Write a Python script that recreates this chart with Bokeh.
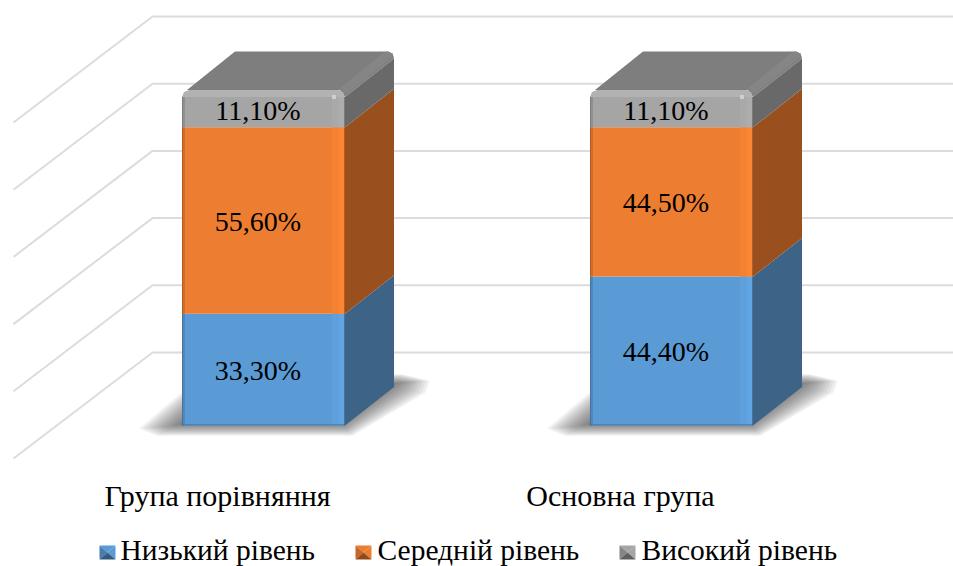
from bokeh.plotting import figure
from bokeh.embed import file_html
from bokeh.resources import INLINE
from bokeh.core.properties import value

# --- data ---
categories = ["Група порівняння", "Основна група"]
low_level = [33.3, 44.4]
mid_level = [55.6, 44.5]
high_level = [11.1, 11.1]
low_labels = ["33,30%", "44,40%"]
mid_labels = ["55,60%", "44,50%"]
high_labels = ["11,10%", "11,10%"]
series_names = ["Низький рівень", "Середній рівень", "Високий рівень"]
grid_ticks = [0, 20, 40, 60, 80, 100]

# --- styling / projection constants ---
FONT = value("Liberation Serif")
W, H = 953, 566
PX_PER_CAT = 408.0      # horizontal px between bars
PX_PER_UNIT = 3.355     # vertical px per percent
X0_PX, Y0_PX = 263.0, 425.0   # picture position of category 0 / value 0
DX, DY = 49.0, 38.5     # bar depth in picture px
HALF = 81.5             # half front width, px

x_start = (0 - X0_PX) / PX_PER_CAT
x_end = (W - X0_PX) / PX_PER_CAT
y_top = (Y0_PX - 0) / PX_PER_UNIT
y_bot = (Y0_PX - H) / PX_PER_UNIT

p = figure(width=W, height=H, x_range=(x_start, x_end), y_range=(y_bot, y_top),
           output_backend="svg", toolbar_location=None, min_border=0,
           outline_line_color=None, background_fill_color="white",
           border_fill_color="white")
p.axis.visible = False
p.grid.visible = False


def px(x):
    return (x - X0_PX) / PX_PER_CAT


def py(y):
    return (Y0_PX - y) / PX_PER_UNIT


def dxx(d):
    return d / PX_PER_CAT


def dyy(d):
    return d / PX_PER_UNIT


# --- gridlines: back wall and side wall ---
WALL_LEFT = 152.0
WALL_FRONT = 13.0
BACK_Y0 = 352.0
GRID_STEP = 67.2 / 20
for t in grid_ticks:
    yb = BACK_Y0 - t * GRID_STEP
    p.line([px(WALL_FRONT), px(WALL_LEFT), px(953)], [py(yb + 106), py(yb), py(yb)],
           line_color="#dcdcdc", line_width=2)

# --- floor shadows (stacked translucent layers imitate the blur) ---
for i, _ in enumerate(categories):
    c = X0_PX + i * PX_PER_CAT
    for g in [13, 11, 9, 7, 5, 3, 1, -1, -3, -5, -7, -9, -11, -13, -15]:
        xs = [c - HALF - 18 - g * 1.9, c - HALF - 12 - g * 1.0, c + HALF + 1 + g * 0.5,
              c + HALF + DX + 8 + g * 1.8, c + HALF + DX + 16 + g * 1.5,
              c + HALF + DX + 4 + g * 0.3, c - HALF + 35 - g]
        ys = [Y0_PX + 1 + g * 0.15, Y0_PX + 3 + g * 0.55, Y0_PX + 3 + g * 0.55,
              Y0_PX - DY + 3 + g * 0.2, Y0_PX - DY - 5 - g * 0.1,
              Y0_PX - DY - 7 - g * 0.45, Y0_PX - DY - 7 - g * 0.5]
        p.patch([px(v) for v in xs], [py(v) for v in ys], fill_color="#262626",
                fill_alpha=0.07, line_color=None)

# --- bars ---
front_cols = ["#5b9bd5", "#ed7d31", "#a5a5a5"]
side_cols = ["#3d6387", "#9a501e", "#696969"]
dark_cols = ["#44749f", "#b25e25", "#7c7c7c"]
mid_dark_cols = ["#5088bb", "#d06e2b", "#919191"]
light_cols = ["#5ea0dc", "#f58133", "#a9a9a9"]
light2_cols = ["#61a5e2", "#fd8634", "#adadad"]

h_dx = dxx(HALF)
d_x = dxx(DX)
d_y = dyy(DY)
ROUND = dyy(7)
for i, _ in enumerate(categories):
    stack = [low_level[i], mid_level[i], high_level[i]]
    base = 0.0
    total = sum(stack)
    for s, v in enumerate(stack):
        top = base + v
        top_f = top - ROUND if s == 2 else top
        # side face
        p.patch([i + h_dx, i + h_dx + d_x, i + h_dx + d_x, i + h_dx],
                [base, base + d_y, top_f + d_y, top_f],
                fill_color=side_cols[s], line_color=None)
        # front face
        p.quad(left=i - h_dx, right=i + h_dx, bottom=base, top=top_f,
               fill_color=front_cols[s], line_color=None)
        # bevel strips along the vertical edges
        p.quad(left=i - h_dx, right=i - h_dx + dxx(1.5), bottom=base, top=top_f,
               fill_color=dark_cols[s], line_color=None)
        p.quad(left=i - h_dx + dxx(1.5), right=i - h_dx + dxx(3), bottom=base, top=top_f,
               fill_color=mid_dark_cols[s], line_color=None)
        p.quad(left=i + h_dx - dxx(13), right=i + h_dx - dxx(6), bottom=base, top=top_f,
               fill_color=light_cols[s], line_color=None)
        p.quad(left=i + h_dx - dxx(6), right=i + h_dx - dxx(1), bottom=base, top=top_f,
               fill_color=light2_cols[s], line_color=None)
        p.quad(left=i + h_dx - dxx(1), right=i + h_dx, bottom=base, top=top_f,
               fill_color=dark_cols[s], line_color=None)
        base = top
    # bottom bevel
    p.quad(left=i - h_dx, right=i + h_dx, bottom=0, top=dyy(1.5),
           fill_color=dark_cols[0], fill_alpha=0.6, line_color=None)
    xl, xr = i - h_dx, i + h_dx
    # top face
    p.patch([xl + dxx(5), xl + d_x + dxx(4), xr + d_x - dxx(6), xr + d_x - dxx(1.5),
             xr + d_x, xr, xr - dxx(5)],
            [total, total + d_y, total + d_y, total + d_y - dyy(2),
             total + d_y - ROUND, total - ROUND, total],
            fill_color="#7e7e7e", line_color=None)
    # lighter rim along the right edge of the top
    p.patch([xr - dxx(7), xr + d_x - dxx(10), xr + d_x - dxx(6), xr + d_x - dxx(1.5),
             xr + d_x - dxx(0.5), xr + dxx(0.5), xr - dxx(2)],
            [total, total + d_y - dyy(0.5), total + d_y, total + d_y - dyy(2),
             total + d_y - dyy(5), total - dyy(5), total - dyy(1)],
            fill_color="#858585", line_color=None)
    # rounded upper part of the front face
    p.patch([xl, xl + dxx(2), xl + dxx(7), xr - dxx(7), xr - dxx(2), xr, xr, xl],
            [total - ROUND, total - dyy(2), total, total, total - dyy(2), total - ROUND, total - ROUND, total - ROUND],
            fill_color="#b2b2b2", line_color=None)
    # small glint at the front top right corner
    p.quad(left=xr - dxx(13), right=xr - dxx(9), bottom=total - dyy(9), top=total - dyy(5),
           fill_color="#cfcfcf", line_color=None)

# --- data labels ---
label_dx = px(258) - px(263)
label_nudge = [dyy(-0.5), dyy(-1), dyy(-2)]
for n, (labels, bottoms, heights) in enumerate((
    (low_labels, [0, 0], low_level),
    (mid_labels, low_level, mid_level),
    (high_labels, [a + b for a, b in zip(low_level, mid_level)], high_level),
)):
    p.text(x=[i + label_dx - dxx(0.5) for i in range(len(categories))],
           y=[b + h / 2 + label_nudge[n] for b, h in zip(bottoms, heights)],
           text=labels, text_font=FONT, text_font_size="28px",
           text_align="center", text_baseline="middle", text_color="#000000")

# --- category labels ---
p.text(x=[px(217), px(620)], y=[py(495), py(495)], text=categories, text_font=FONT,
       text_font_size="30px", text_align="center", text_baseline="middle", text_color="#000000")

# --- legend ---
legend_box_x = [99, 355, 619]
legend_text_x = [120, 377, 641]
legend_main = ["#5b9bd5", "#ed7d31", "#a5a5a5"]
legend_dark = ["#335a80", "#8f4a1c", "#5f5f5f"]
legend_mid = ["#497db0", "#c46729", "#858585"]
for n, name in enumerate(series_names):
    x0 = legend_box_x[n]
    x1, y0, y1 = x0 + 16, 545, 559
    xc, yc = x0 + 8, 552
    tris = [
        ([x0, x1, xc], [y0, y0, yc], legend_main[n]),
        ([x1, x1, xc], [y0, y1, yc], legend_main[n]),
        ([x0, x0, xc], [y0, y1, yc], legend_mid[n]),
        ([x0, x1, xc], [y1, y1, yc], legend_dark[n]),
    ]
    for xs, ys, col in tris:
        p.patch([px(v) for v in xs], [py(v) for v in ys], fill_color=col, line_color=None)
    p.text(x=[px(legend_text_x[n])], y=[py(549)], text=[name], text_font=FONT,
           text_font_size="29.5px", text_align="left", text_baseline="middle", text_color="#000000")

open("out.html", "w").write(file_html(p, INLINE))
